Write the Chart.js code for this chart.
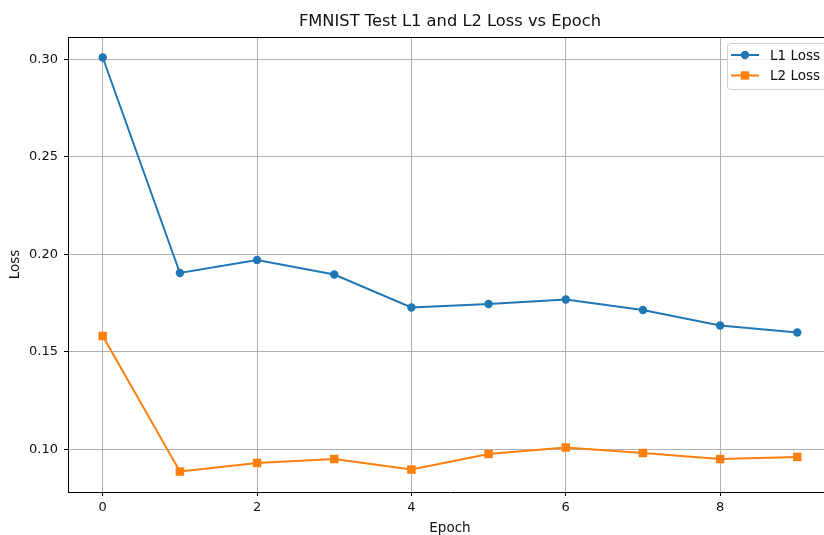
<!DOCTYPE html>
<html lang="en">
<head>
    <meta charset="UTF-8">
    <script src="https://cdn.jsdelivr.net/npm/chart.js"></script>
    <title>FMNIST Loss</title>
    <style>
        body { margin: 0; overflow: hidden; background: #fff; }
        #box { width: 840px; height: 535px; }
    </style>
</head>
<body>
    <div id="box"><canvas id="grafico"></canvas></div>
</body>
</html>

<script>
    var epocas = [0, 1, 2, 3, 4, 5, 6, 7, 8, 9];
    var perda_l1 = [0.301, 0.1905, 0.1972, 0.1897, 0.1728, 0.1746, 0.1769, 0.1715, 0.1636, 0.1600];
    var perda_l2 = [0.1582, 0.0887, 0.0931, 0.0951, 0.0897, 0.0977, 0.1010, 0.0982, 0.0951, 0.0962];
    var ticks_x = [0, 2, 4, 6, 8];
    var ticks_y = [0.10, 0.15, 0.20, 0.25, 0.30];

    var fonte = 'DejaVu Sans';

    // titulo, rotulos dos eixos, borda de cima e legenda no estilo matplotlib
    var extras = {
        id: 'extras',
        afterDraw: function (chart) {
            var c = chart.ctx;
            var a = chart.chartArea;
            c.save();
            c.strokeStyle = '#000';
            c.lineWidth = 1;
            c.beginPath();
            c.moveTo(a.left, a.top + 0.5);
            c.lineTo(a.right, a.top + 0.5);
            c.moveTo(a.right - 0.5, a.top);
            c.lineTo(a.right - 0.5, a.bottom);
            c.stroke();

            c.fillStyle = '#111';
            c.textAlign = 'center';
            c.textBaseline = 'middle';
            c.font = '16.3px ' + fonte;
            c.fillText('FMNIST Test L1 and L2 Loss vs Epoch', (a.left + a.right) / 2, 22);
            c.font = '13.5px ' + fonte;
            c.fillText('Epoch', (a.left + a.right) / 2, 528);
            c.translate(15, (a.top + a.bottom) / 2);
            c.rotate(-Math.PI / 2);
            c.fillText('Loss', 0, 0);
            c.restore();

            // legenda
            c.save();
            var lx = 727, ly = 43, lw = 99, lh = 46;
            c.fillStyle = 'rgba(255,255,255,0.8)';
            c.strokeStyle = '#d0d0d0';
            c.lineWidth = 1;
            c.beginPath();
            c.roundRect(lx + 0.5, ly + 0.5, lw, lh, 3);
            c.fill();
            c.stroke();
            var ds = chart.data.datasets;
            for (var i = 0; i < ds.length; i++) {
                var y = 55 + i * 20.5;
                c.strokeStyle = ds[i].borderColor;
                c.fillStyle = ds[i].borderColor;
                c.lineWidth = 2;
                c.beginPath();
                c.moveTo(731, y);
                c.lineTo(759, y);
                c.stroke();
                if (ds[i].pointStyle === 'rect') {
                    c.fillRect(745 - 4.2, y - 4.2, 8.4, 8.4);
                } else {
                    c.beginPath();
                    c.arc(745, y, 4.2, 0, Math.PI * 2);
                    c.fill();
                }
                c.fillStyle = '#111';
                c.font = '13.5px ' + fonte;
                c.textAlign = 'left';
                c.textBaseline = 'middle';
                c.fillText(ds[i].label, 770, y + 1);
            }
            c.restore();
        }
    };

    new Chart(document.getElementById('grafico'), {
        type: 'line',
        data: {
            datasets: [{
                label: 'L1 Loss',
                data: epocas.map(function (e, i) { return { x: e, y: perda_l1[i] }; }),
                borderColor: '#1f77b4',
                backgroundColor: '#1f77b4',
                borderWidth: 2,
                pointStyle: 'circle',
                pointRadius: 4.2,
                pointBorderWidth: 0,
                tension: 0
            }, {
                label: 'L2 Loss',
                data: epocas.map(function (e, i) { return { x: e, y: perda_l2[i] }; }),
                borderColor: '#ff7f0e',
                backgroundColor: '#ff7f0e',
                borderWidth: 2,
                pointStyle: 'rect',
                pointRadius: 6,
                pointBorderWidth: 0,
                tension: 0
            }]
        },
        options: {
            responsive: true,
            maintainAspectRatio: false,
            animation: false,
            layout: { padding: { top: 37, right: 8, left: 0, bottom: 0 } },
            plugins: {
                legend: { display: false },
                title: { display: false },
                tooltip: { enabled: false }
            },
            scales: {
                x: {
                    type: 'linear',
                    min: -0.45,
                    max: 9.45,
                    afterBuildTicks: function (s) { s.ticks = ticks_x.map(function (v) { return { value: v }; }); },
                    afterFit: function (s) { s.height = 43; },
                    grid: { color: '#b0b0b0', lineWidth: 1, tickColor: '#000', tickLength: 4, drawTicks: true },
                    border: { display: true, color: '#000', width: 1 },
                    ticks: { color: '#111', font: { family: fonte, size: 13 }, padding: 4, maxRotation: 0 }
                },
                y: {
                    min: 0.0782,
                    max: 0.3115,
                    afterBuildTicks: function (s) { s.ticks = ticks_y.map(function (v) { return { value: v }; }); },
                    afterFit: function (s) { s.width = 68; },
                    grid: { color: '#b0b0b0', lineWidth: 1, tickColor: '#000', tickLength: 4 },
                    border: { display: true, color: '#000', width: 1 },
                    ticks: {
                        color: '#111',
                        font: { family: fonte, size: 13 },
                        padding: 6,
                        callback: function (v) { return v.toFixed(2); }
                    }
                }
            }
        },
        plugins: [extras]
    });
</script>
